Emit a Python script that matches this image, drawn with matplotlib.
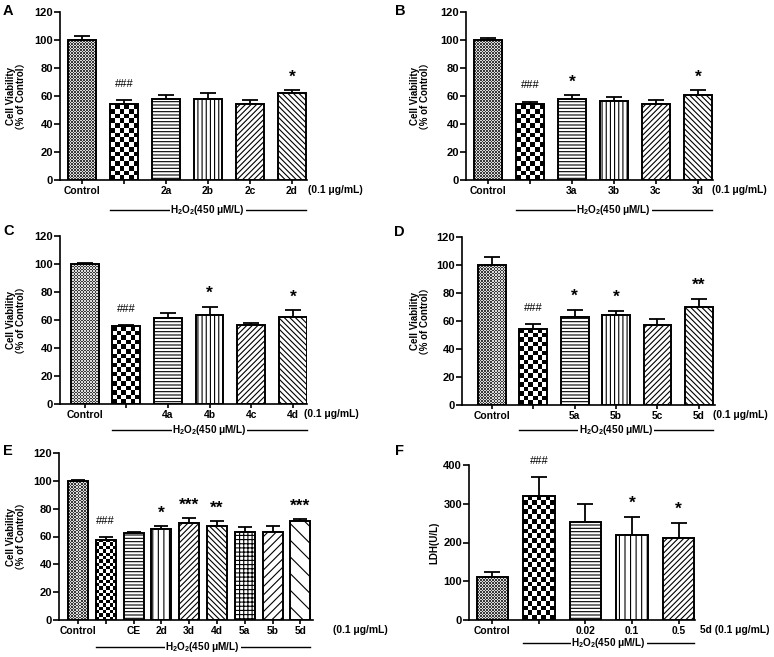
import numpy as np
import matplotlib
matplotlib.use("Agg")
import matplotlib.pyplot as plt
from matplotlib.colors import ListedColormap
from matplotlib.transforms import blended_transform_factory

plt.rcParams['font.family'] = ['Liberation Sans', 'Noto Sans CJK SC', 'DejaVu Sans']
plt.rcParams['font.weight'] = 'bold'
plt.rcParams['mathtext.fontset'] = 'custom'
plt.rcParams['mathtext.rm'] = 'Liberation Sans:bold'
plt.rcParams['mathtext.it'] = 'Liberation Sans:bold'
plt.rcParams['mathtext.bf'] = 'Liberation Sans:bold'
plt.rcParams['hatch.linewidth'] = 0.8
plt.rcParams['axes.linewidth'] = 1.2

W, H = 774, 657

# ---- data ----
a_labels = ['Control', '', '2a', '2b', '2c', '2d']
a_mean = [100, 54, 58, 58, 54, 62]
a_err = [3, 3, 2.5, 4, 3.5, 2]
a_marks = ['', '###', '', '', '', '*']

b_labels = ['Control', '', '3a', '3b', '3c', '3d']
b_mean = [100, 54, 58, 56.5, 54, 61]
b_err = [1.5, 2, 2.5, 2.5, 3, 3]
b_marks = ['', '###', '*', '', '', '*']

c_labels = ['Control', '', '4a', '4b', '4c', '4d']
c_mean = [100, 55.5, 61.5, 63.5, 56.5, 62]
c_err = [1, 1, 3.5, 6, 1.5, 5]
c_marks = ['', '###', '', '*', '', '*']

d_labels = ['Control', '', '5a', '5b', '5c', '5d']
d_mean = [100, 54.5, 63, 64, 57.5, 70]
d_err = [6, 3.5, 5, 3.5, 4, 6]
d_marks = ['', '###', '*', '*', '', '**']

e_labels = ['Control', '', 'CE', '2d', '3d', '4d', '5a', '5b', '5d']
e_mean = [100, 57.5, 62.5, 65.5, 69.5, 67.5, 63, 63, 71]
e_err = [0.5, 2, 1, 2, 3.5, 3.5, 3.5, 4.5, 1.5]
e_marks = ['', '###', '', '*', '***', '**', '', '', '***']

f_labels = ['Control', '', '0.02', '0.1', '0.5']
f_mean = [112, 321, 252, 220, 212]
f_err = [12, 47, 47, 47, 39]
f_marks = ['', '###', '', '*', '*']

hatch6 = ['ctrl', 'checker', '-----', '||||', '//////', '\\\\\\\\\\\\']
hatch9 = ['ctrl', 'checker', '-----', '|||', '//////', '\\\\\\\\\\\\', '++++', '////', '\\\\']
hatch5 = ['ctrl', 'checker', '-----', '|||', '//////']

fig = plt.figure(figsize=(W / 100, H / 100), dpi=100)

fine_cmap = ListedColormap(['#3a3a3a', '#dcdcdc'])
bw_cmap = ListedColormap(['black', 'white'])


def checker(ax, x, bw, h, cell_px, pxu_x, pxu_y, patch, cmap):
    ncol = max(1, int(round(bw * pxu_x / cell_px)))
    nrow = max(1, int(round(h * pxu_y / cell_px)))
    arr = np.indices((nrow, ncol)).sum(0) % 2
    im = ax.imshow(arr, cmap=cmap, vmin=0, vmax=1, extent=(x - bw / 2, x + bw / 2, 0, h),
                   aspect='auto', interpolation='nearest', origin='lower', zorder=2)
    im.set_clip_path(patch)


def panel(box, xlim, ymax, yticks, labels, mean, err, marks, hatches, bw, ylabel,
          letter, letter_xy, unit_text, unit_off, cap, line_off, ylab_off, cell):
    left, right, top, bottom = box
    ax = fig.add_axes([left / W, 1 - bottom / H, (right - left) / W, (bottom - top) / H])
    x = np.arange(len(mean))
    pxu_x = (right - left) / (xlim[1] - xlim[0])
    pxu_y = (bottom - top) / ymax
    bars = ax.bar(x, mean, width=bw, color='white', edgecolor='black', linewidth=1.4, zorder=3)
    for i, (b, hp) in enumerate(zip(bars, hatches)):
        if hp == 'checker':
            b.set_facecolor('none')
            checker(ax, x[i], bw, mean[i], cell, pxu_x, pxu_y, b, bw_cmap)
        elif hp == 'ctrl':
            b.set_facecolor('none')
            checker(ax, x[i], bw, mean[i], 1.5, pxu_x, pxu_y, b, fine_cmap)
        else:
            b.set_hatch(hp)
    ax.errorbar(x, mean, yerr=[np.zeros(len(err)), err], fmt='none', ecolor='black',
                elinewidth=1.3, capsize=cap, capthick=1.3, zorder=2.5)
    for i, m in enumerate(marks):
        if not m:
            continue
        if m.startswith('#'):
            ax.annotate(m, (x[i], mean[i] + err[i]), xytext=(0, 8), textcoords='offset points',
                        ha='center', va='bottom', fontsize=8, fontweight='normal')
        else:
            ax.annotate(m, (x[i], mean[i] + err[i]), xytext=(0, 4), textcoords='offset points',
                        ha='center', va='bottom', fontsize=12.5, fontweight='bold')
    ax.set_xlim(*xlim)
    ax.set_ylim(0, ymax)
    ax.set_yticks(yticks)
    ax.set_xticks(x)
    ax.set_xticklabels(labels)
    ax.spines['top'].set_visible(False)
    ax.spines['right'].set_visible(False)
    ax.tick_params(axis='y', length=4, width=1.2, labelsize=8, pad=1)
    ax.tick_params(axis='x', length=3, width=1.2, labelsize=7.4, pad=1.5)
    for t in ax.get_xticklabels() + ax.get_yticklabels():
        t.set_fontweight('bold')
    ax.text(-ylab_off / (right - left), 0.5, ylabel, transform=ax.transAxes, rotation=90,
            ha='center', va='center', fontsize=7, fontweight='bold', linespacing=1.1)
    # unit text after the last tick label
    tr = blended_transform_factory(ax.transData, ax.transAxes)
    ax.annotate(unit_text, (x[-1], 0), xycoords=tr, xytext=(unit_off * 0.72, -3.3),
                textcoords='offset points', ha='left', va='top', fontsize=7.4,
                fontweight='bold', annotation_clip=False)
    # H2O2 bracket line
    ly = -line_off / (bottom - top)
    x0, x1 = 1 - bw / 2, x[-1] + 0.33
    ax.plot([x0, x1], [ly, ly], transform=tr, color='black', lw=1.0, clip_on=False)
    ax.text((x0 + x1) / 2, ly, 'H$_2$O$_2$(450 μM/L)', transform=tr, ha='center', va='center',
            fontsize=7.2, fontweight='bold',
            bbox=dict(facecolor='white', edgecolor='none', pad=0.4))
    fig.text(letter_xy[0] / W, 1 - letter_xy[1] / H, letter,
             ha='left', va='top', fontsize=10.5, fontweight='bold')
    return ax


vticks = [0, 20, 40, 60, 80, 100, 120]
vlabel = 'Cell Viability\n（% of Control）'

panel((60, 307, 12, 180), (-0.52, 5.36), 120, vticks, a_labels, a_mean, a_err, a_marks,
      hatch6, 0.67, vlabel, 'A', (3, 4), '(0.1 μg/mL)', 16, 6, 30, 44, 4.6)
panel((466, 713, 12, 180), (-0.52, 5.36), 120, vticks, b_labels, b_mean, b_err, b_marks,
      hatch6, 0.67, vlabel, 'B', (395, 4), '(0.1 μg/mL)', 14, 6, 30, 46, 4.6)
panel((60, 307, 236, 404), (-0.59, 5.34), 120, vticks, c_labels, c_mean, c_err, c_marks,
      hatch6, 0.67, vlabel, 'C', (3, 224), '(0.1 μg/mL)', 11, 6, 26, 44, 4.6)
panel((462, 715, 237, 405), (-0.72, 5.39), 120, vticks, d_labels, d_mean, d_err, d_marks,
      hatch6, 0.67, vlabel, 'D', (394, 225), '(0.1 μg/mL)', 14, 6, 25, 42, 4.6)
panel((59, 313, 453, 620), (-0.68, 8.45), 120, vticks, e_labels, e_mean, e_err, e_marks,
      hatch9, 0.72, vlabel, 'E', (3, 444), '(0.1 μg/mL)', 33, 4.7, 27, 43, 3.4)
panel((469, 695, 465, 620), (-0.5, 4.35), 400, [0, 100, 200, 300, 400], f_labels, f_mean,
      f_err, f_marks, hatch5, 0.67, 'LDH(U/L)', 'F', (395, 444), '5d (0.1 μg/mL)', 21, 6, 23, 35, 4.7)

fig.savefig('out.png', dpi=100)
